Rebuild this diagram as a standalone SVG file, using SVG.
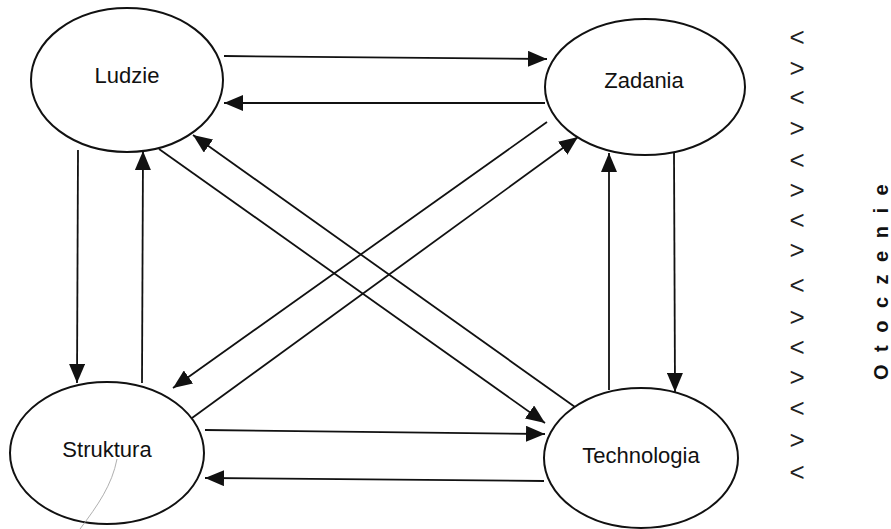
<svg xmlns="http://www.w3.org/2000/svg" width="891" height="529" viewBox="0 0 891 529">
  <style>
    .node ellipse { fill: #ffffff; stroke: #111111; stroke-width: 2; }
    .node text { font-family: "Liberation Sans", Arial, sans-serif; font-size: 22px; fill: #111111; text-anchor: middle; }
    .conn line { stroke: #111111; stroke-width: 1.8; marker-end: url(#arrow); }
    .sym { font-family: "Liberation Sans", Arial, sans-serif; font-size: 26px; fill: #222222; text-anchor: middle; }
    .env { font-family: "Liberation Sans", Arial, sans-serif; font-size: 20px; font-weight: bold; fill: #111111; letter-spacing: 12.5px; }
  </style>
  <defs>
    <marker id="arrow" markerUnits="userSpaceOnUse" markerWidth="19" markerHeight="16" refX="19" refY="8" orient="auto">
      <path d="M0,0 L19,8 L0,16 z" fill="#111111"/>
    </marker>
  </defs>
  <rect width="891" height="529" fill="#ffffff"/>

  <!-- connectors -->
  <g id="connectors" class="conn">
    <line x1="224" y1="56" x2="547" y2="59"/>
    <line x1="545" y1="103" x2="224" y2="103"/>
    <line x1="78" y1="150" x2="77" y2="383"/>
    <line x1="142" y1="383" x2="143" y2="151"/>
    <line x1="159" y1="149" x2="545" y2="423"/>
    <line x1="575" y1="407" x2="193" y2="135"/>
    <line x1="547" y1="122" x2="173" y2="388"/>
    <line x1="192" y1="418" x2="578" y2="137"/>
    <line x1="205" y1="430" x2="545" y2="434"/>
    <line x1="544" y1="481" x2="205" y2="478"/>
    <line x1="609" y1="390" x2="609" y2="153"/>
    <line x1="674" y1="150" x2="675" y2="392"/>
  </g>

  <!-- nodes -->
  <g id="ludzie" class="node">
    <ellipse cx="127" cy="80" rx="96" ry="72"/>
    <text x="127" y="83">Ludzie</text>
  </g>
  <g id="zadania" class="node">
    <ellipse cx="645" cy="87" rx="100" ry="68"/>
    <text x="644" y="88">Zadania</text>
  </g>
  <g id="struktura" class="node">
    <ellipse cx="107" cy="453" rx="97" ry="71"/>
    <text x="107" y="457">Struktura</text>
  </g>
  <g id="technologia" class="node">
    <ellipse cx="641" cy="458" rx="97" ry="70"/>
    <text x="641" y="463">Technologia</text>
  </g>

  <!-- pen stroke across the Struktura node -->
  <path d="M117,459 C112,485 98,505 80,529" fill="none" stroke="#9a9a9a" stroke-width="0.8"/>

  <!-- environment boundary -->
  <g id="boundary">
    <text class="sym" x="797" y="46">&lt;</text>
    <text class="sym" x="797" y="77">&gt;</text>
    <text class="sym" x="797" y="106">&lt;</text>
    <text class="sym" x="797" y="137">&gt;</text>
    <text class="sym" x="797" y="169">&lt;</text>
    <text class="sym" x="797" y="199">&gt;</text>
    <text class="sym" x="797" y="229">&lt;</text>
    <text class="sym" x="797" y="259">&gt;</text>
    <text class="sym" x="797" y="294">&lt;</text>
    <text class="sym" x="797" y="326">&gt;</text>
    <text class="sym" x="797" y="356">&lt;</text>
    <text class="sym" x="797" y="386">&gt;</text>
    <text class="sym" x="797" y="417">&lt;</text>
    <text class="sym" x="797" y="449">&gt;</text>
    <text class="sym" x="797" y="481">&lt;</text>
  </g>
  <g id="otoczenie">
    <text class="env" transform="translate(888,380) rotate(-90)" x="0" y="0">Otoczenie</text>
  </g>
</svg>
